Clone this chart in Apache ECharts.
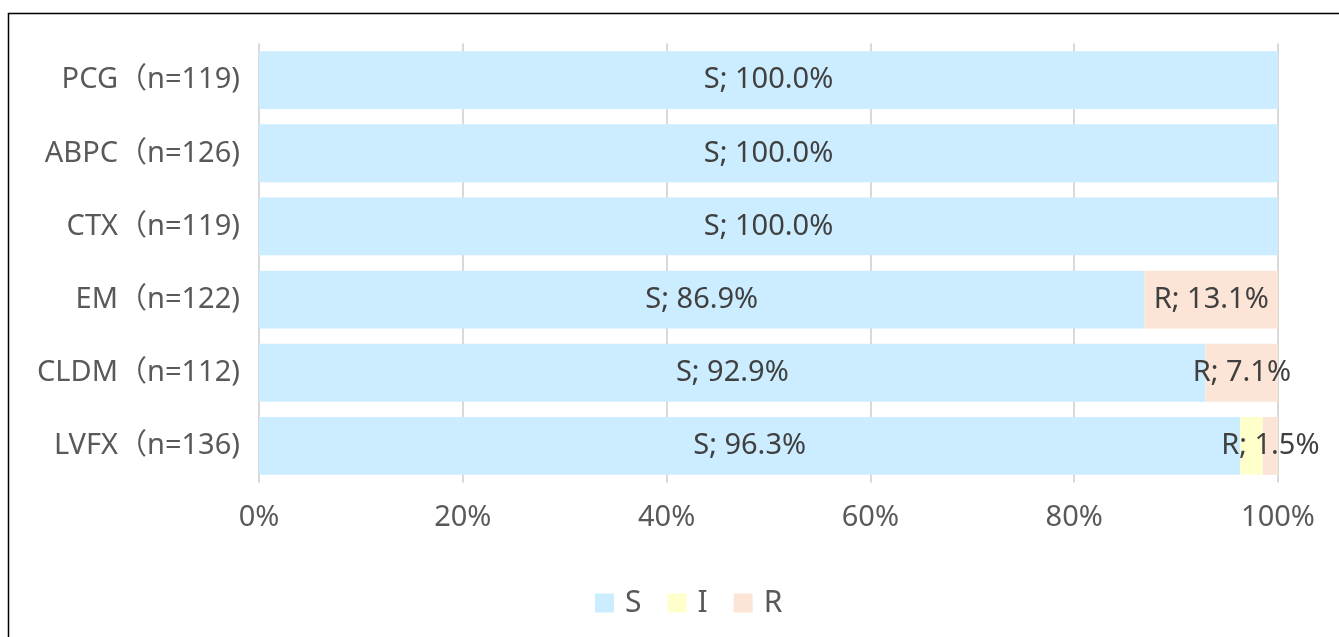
<!DOCTYPE html>
<html>
<head>
<meta charset="utf-8">
<script src="https://cdn.jsdelivr.net/npm/echarts@6/dist/echarts.min.js"></script>
<style>
html,body{margin:0;padding:0;background:#fff;}
#c{width:1339px;height:637px;}
</style>
</head>
<body>
<div id="c"></div>
<script>
const categories = ['PCG（n=119)', 'ABPC（n=126)', 'CTX（n=119)', 'EM（n=122)', 'CLDM（n=112)', 'LVFX（n=136)'];
const seriesNames = ['S', 'I', 'R'];
const sValues = [100.0, 100.0, 100.0, 86.9, 92.9, 96.3];
const iValues = [0, 0, 0, 0, 0, 2.2];
const rValues = [0, 0, 0, 13.1, 7.1, 1.5];
const xTicks = [0, 20, 40, 60, 80, 100];
const colors = ['#CCECFF', '#FFFFCC', '#FCE4D6'];

const FONT = '"Noto Sans", "Noto Sans CJK JP", sans-serif';
const chart = echarts.init(document.getElementById('c'));

function mkSeries(name, data, color, showLabel) {
  return {
    name: name,
    type: 'bar',
    stack: 'total',
    data: data,
    barCategoryGap: '21%',
    itemStyle: { color: color },
    label: {
      show: showLabel,
      position: 'inside',
      color: '#404040',
      fontFamily: FONT,
      fontSize: 29,
      formatter: function (p) { return p.value > 0 ? name + '; ' + p.value.toFixed(1) + '%' : ''; }
    },
    emphasis: { disabled: true },
    animation: false
  };
}

chart.setOption({
  animation: false,
  graphic: [{
    type: 'rect',
    shape: { x: 8.5, y: 13.5, width: 1500, height: 800 },
    style: { fill: 'none', stroke: '#000', lineWidth: 1.5 },
    silent: true
  }],
  grid: { left: 259, right: 61, top: 43.5, bottom: 154.5, containLabel: false },
  xAxis: {
    type: 'value',
    min: 0, max: 100, interval: 20,
    axisLine: { show: false },
    axisTick: { show: false },
    splitLine: { show: true, lineStyle: { color: '#D9D9D9', width: 2 } },
    axisLabel: {
      color: '#595959', fontFamily: FONT, fontSize: 29, margin: 21,
      formatter: function (v) { return xTicks.indexOf(v) >= 0 ? v + '%' : ''; }
    }
  },
  yAxis: {
    type: 'category',
    data: categories,
    inverse: true,
    axisLine: { show: false },
    axisTick: { show: false },
    axisLabel: { color: '#595959', fontFamily: FONT, fontSize: 29, margin: 19 }
  },
  legend: {
    data: seriesNames,
    left: 590,
    top: 583,
    itemWidth: 19,
    itemHeight: 19,
    itemGap: 26,
    icon: 'rect',
    textStyle: { color: '#595959', fontFamily: FONT, fontSize: 30, padding: [0, 0, 0, 6] },
    selectedMode: false
  },
  series: [
    mkSeries('S', sValues, colors[0], true),
    mkSeries('I', iValues, colors[1], false),
    mkSeries('R', rValues, colors[2], true)
  ]
});
</script>
</body>
</html>
